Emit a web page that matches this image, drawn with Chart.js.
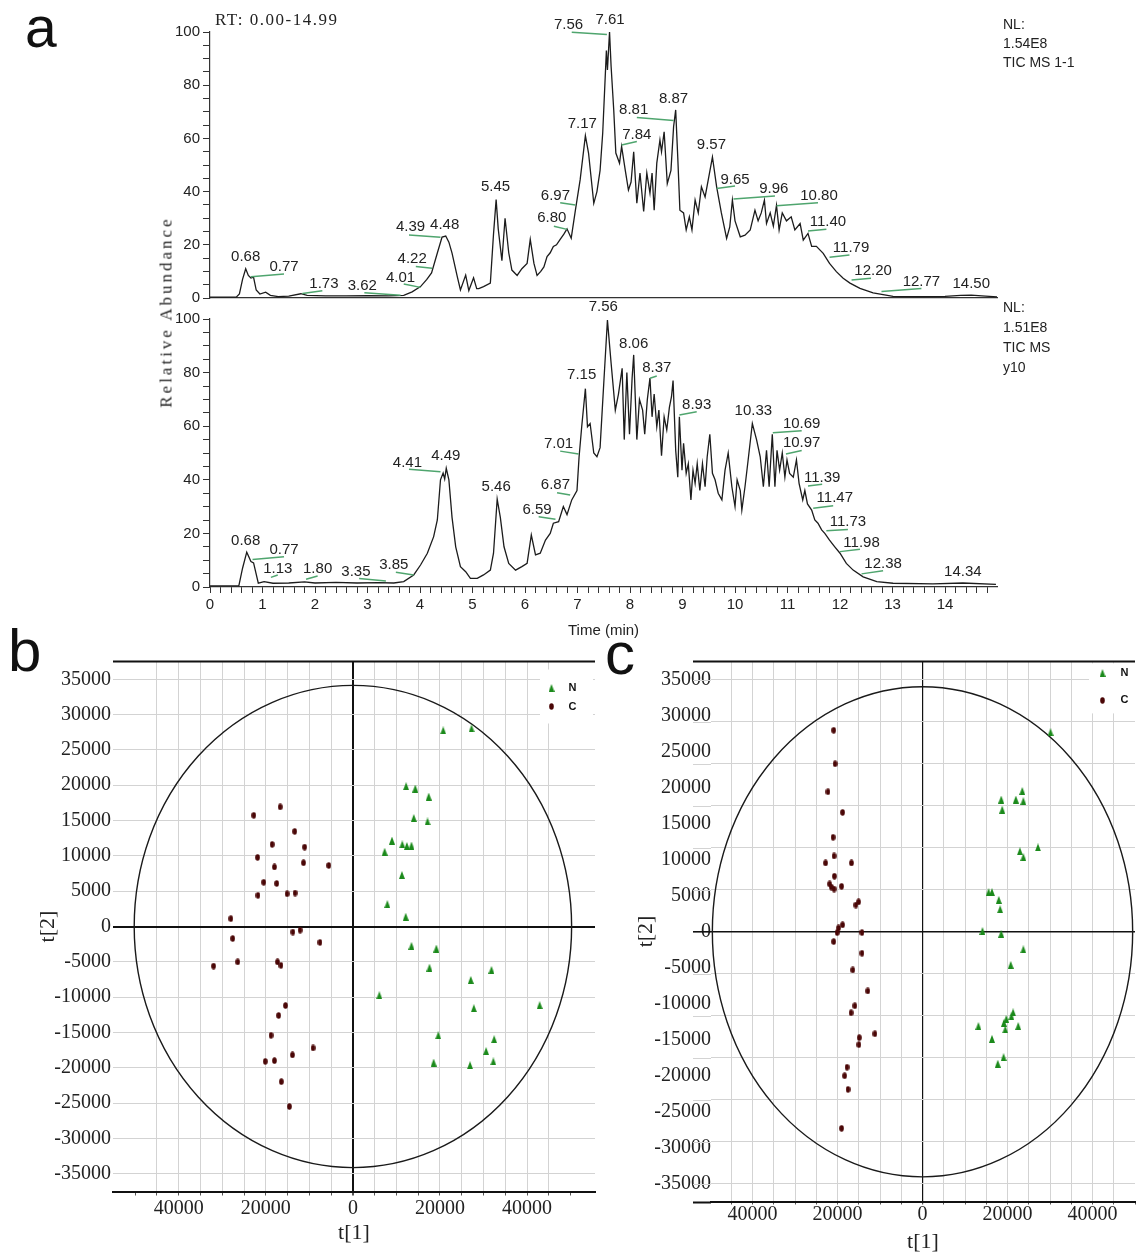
<!DOCTYPE html>
<html><head><meta charset="utf-8">
<script src="https://cdn.jsdelivr.net/npm/chart.js@4.4.1/dist/chart.umd.min.js"></script>
<style>
html,body{margin:0;padding:0;background:#fff;}
body{width:1140px;height:1252px;position:relative;overflow:hidden;font-family:"Liberation Sans",Arial,sans-serif;}
canvas{position:absolute;}
.t{position:absolute;white-space:nowrap;color:#222;line-height:1;}
</style></head><body>
<canvas id="cTop" width="870" height="310" style="left:150px;top:0px"></canvas>
<canvas id="cBot" width="870" height="360" style="left:150px;top:290px"></canvas>
<canvas id="cB" width="600" height="597" style="left:0px;top:655px"></canvas>
<canvas id="cC" width="540" height="597" style="left:600px;top:655px"></canvas>

<div class="t" style="left:25px;top:-1px;font-size:57px;color:#111">a</div>
<div class="t" style="left:8px;top:621px;font-size:60px;color:#111">b</div>
<div class="t" style="left:605px;top:624px;font-size:60px;color:#111">c</div>
<div class="t" style="left:215px;top:11px;font-size:17px;letter-spacing:1.5px;font-family:'Liberation Serif',serif">RT: 0.00-14.99</div>
<div class="t" style="left:1003px;top:15px;font-size:14px;line-height:19px">NL:<br>1.54E8<br>TIC MS 1-1</div>
<div class="t" style="left:1003px;top:297px;font-size:14px;line-height:20px">NL:<br>1.51E8<br>TIC MS<br>y10</div>
<div class="t" style="left:166px;top:312px;font-size:17px;letter-spacing:3px;font-family:'Liberation Serif',serif;transform:translate(-50%,-50%) rotate(-90deg)">Relative Abundance</div>

<script>
// ================= DATA =================
// Panel a, upper trace (TIC MS 1-1): retention time (min) and relative abundance (%)
const topTimes = [0.00,0.50,0.56,0.62,0.68,0.73,0.78,0.83,0.88,0.95,1.06,1.15,1.30,1.50,1.73,1.85,2.20,2.60,3.00,3.40,3.69,3.85,4.01,4.13,4.22,4.33,4.42,4.49,4.55,4.61,4.71,4.77,4.87,4.93,5.02,5.08,5.12,5.21,5.34,5.40,5.45,5.49,5.56,5.62,5.69,5.75,5.85,5.94,6.04,6.10,6.17,6.23,6.30,6.36,6.42,6.48,6.54,6.60,6.67,6.74,6.80,6.88,6.96,7.05,7.15,7.21,7.31,7.37,7.43,7.48,7.55,7.57,7.61,7.64,7.69,7.73,7.80,7.84,7.91,7.97,8.02,8.07,8.13,8.19,8.26,8.32,8.38,8.42,8.46,8.51,8.57,8.60,8.65,8.71,8.78,8.83,8.87,8.91,8.95,9.02,9.07,9.13,9.18,9.24,9.30,9.36,9.43,9.49,9.57,9.65,9.74,9.84,9.90,9.95,10.00,10.10,10.19,10.29,10.38,10.44,10.50,10.56,10.60,10.67,10.73,10.79,10.84,10.90,10.98,11.07,11.14,11.24,11.30,11.39,11.46,11.55,11.68,11.80,11.93,12.06,12.19,12.38,12.63,13.01,13.50,14.00,14.30,14.50,14.70,14.99];
const topAbund = [0.3,0.3,1.5,7,11,8.5,7.5,7.8,3,1.5,2.2,1.0,0.5,0.7,1.6,1.0,0.8,0.8,0.9,0.8,1.0,2.3,4.3,7,9.4,16.9,22.9,23.3,21,16.9,8,3,8.6,2.8,7.6,3.5,3.5,4.3,5.6,24,37,26,14,30,17,10.5,8.5,11,13,22,13,8.5,10,11.7,15.6,17,19.4,20,22,24,26,22.5,33,44.4,61,54.5,35.6,40,48,62,93,85.7,100,87,70.7,54.5,50.7,57,48,40.6,43.6,55,35.6,47,32.5,47,39.4,47,33,50.7,59.4,55,62.5,43,48,64.4,70.7,52.6,33,32,25.6,30.5,25.6,36.8,32,41.8,38,44.4,53,41.8,32,22.4,26.7,36.8,29,23,23.6,25.6,33,29,32,36.8,28,32,27,34.8,25.6,32,29,30.5,25.6,28,21.8,24.3,19.4,19.4,16.8,13,9.9,7.4,5.6,3.6,1.9,0.6,0.5,0.6,1.0,1.1,0.8,0.4];

// Panel a, lower trace (TIC MS y10)
const botTimes = [0.00,0.55,0.62,0.70,0.78,0.83,0.92,1.03,1.20,1.50,1.80,2.00,2.40,2.80,3.20,3.50,3.69,3.88,4.01,4.14,4.26,4.33,4.39,4.44,4.47,4.50,4.55,4.61,4.68,4.77,4.87,4.96,5.09,5.21,5.34,5.40,5.47,5.53,5.60,5.69,5.82,5.94,6.04,6.12,6.20,6.29,6.39,6.48,6.54,6.64,6.73,6.80,6.89,6.99,7.03,7.08,7.15,7.19,7.24,7.31,7.37,7.43,7.50,7.57,7.64,7.72,7.78,7.85,7.89,7.94,7.99,8.04,8.07,8.13,8.18,8.24,8.28,8.33,8.38,8.42,8.46,8.51,8.55,8.60,8.65,8.70,8.75,8.79,8.82,8.87,8.91,8.94,8.99,9.02,9.07,9.11,9.16,9.20,9.24,9.28,9.33,9.38,9.43,9.47,9.52,9.57,9.62,9.68,9.75,9.81,9.87,9.94,10.00,10.04,10.10,10.13,10.19,10.25,10.33,10.41,10.48,10.54,10.60,10.65,10.71,10.76,10.80,10.85,10.90,10.95,10.99,11.04,11.11,11.17,11.22,11.29,11.33,11.38,11.46,11.52,11.58,11.65,11.71,11.80,11.90,12.00,12.12,12.25,12.44,12.70,13.01,13.77,14.34,14.97];
const botAbund = [0.4,0.5,7,13,9.5,9,1.4,2,1.4,1.5,1.9,1.5,1.7,1.5,1.6,1.5,2,4.5,8.2,12.6,18.8,25,40,42.5,40.3,44.3,40,26,15,7.6,5.7,3.2,3.2,4.5,6.3,12.6,32.8,26,15,8.8,6.3,7.6,8.8,19.4,12,12.6,17.5,20,23.8,24.4,30,27,32.5,36,48.6,59.8,74,59.8,61,50,48.6,52,76,99.6,83.5,66,72,81.6,55,80,57,78,86.6,55,70,66,57,70,78,63.5,72,59.8,66,49,63.5,58.6,67,71,77,51,41,63.5,43.6,53.6,42.4,46,32.5,43.6,38.7,46,36,46,37.4,48.6,57,42.4,40,35,32.5,43.6,50,37.4,30,40,36,28.7,37.4,47.4,61,55,48.6,37.4,51,37.4,57,37.4,51,43.6,50,41,47.4,42.4,41,47.4,38.7,32.5,36,31,28.7,25,23.8,21.3,20,17.5,15,12.6,8.8,6.3,3.8,2,1.4,1.2,1.5,1];

// Peak labels: [text, labelTime, labelAbund, leaderStartTime, leaderStartAbund, leaderEndTime, leaderEndAbund]
const topPeaks = [
 ["0.68",0.68,15.3],["0.77",1.41,11.8,0.78,8,1.41,9],["1.73",2.17,5.3,1.76,1.7,2.14,2.7],
 ["3.62",2.90,4.5,2.94,2,3.63,1],["4.01",3.63,7.6,3.69,5.3,4.01,4],["4.22",3.85,14.9,3.92,11.8,4.23,11.2],
 ["4.39",3.82,26.6,3.79,23.7,4.39,22.8],["4.48",4.47,27.4],["5.45",5.44,41.6],
 ["6.97",6.58,38.3,6.67,35.8,6.96,35],["6.80",6.51,30,6.55,27,6.80,25.8],["7.17",7.09,65.4],
 ["7.56",6.83,102.6,6.89,99.9,7.56,99.1],["7.61",7.62,104.5],["8.81",8.07,70.7,8.13,67.9,8.83,66.7],
 ["7.84",8.13,61.3,7.84,57.5,8.13,58.8],["8.87",8.83,75],["9.57",9.55,57.5],
 ["9.65",10.0,44.6,9.65,41.2,10.0,42.1],["9.96",10.74,41.2,9.97,37.2,10.76,38.3],
 ["10.80",11.6,38.3,10.79,34.7,11.58,35.8],["11.40",11.77,28.7,11.39,25.2,11.74,25.8],
 ["11.79",12.21,19,11.80,15.3,12.18,16.2],["12.20",12.63,10.3,12.22,6.8,12.59,7.4],
 ["12.77",13.55,6.1,12.79,2.4,13.55,3.6],["14.50",14.5,5.3]
];
const botPeaks = [
 ["0.68",0.68,17.3],["0.77",1.41,13.8,0.81,10.3,1.41,11.3],["1.13",1.29,6.6,1.16,3.6,1.29,4.5],
 ["1.80",2.05,6.6,1.83,2.9,2.05,4.1],["3.35",2.78,5.7,2.84,3.2,3.35,2.2],["3.85",3.50,8.2,3.54,5.5,3.88,4.5],
 ["4.41",3.76,46.4,3.79,43.9,4.39,43],["4.49",4.49,48.9],["5.46",5.45,37.2],
 ["6.59",6.23,28.7,6.26,26.2,6.58,25.3],["6.87",6.58,38,6.61,35.2,6.86,34.3],["7.01",6.64,53.4,6.67,50.7,7.02,49.6],
 ["7.15",7.08,79],["7.56",7.49,104.6],["8.06",8.07,90.9],["8.37",8.51,81.6,8.38,77.9,8.51,78.7],
 ["8.93",9.27,67.9,8.94,64.2,9.27,65.4],["10.33",10.35,65.7],["10.69",11.27,61,10.72,57.6,11.27,58.3],
 ["10.97",11.27,53.6,10.97,49.6,11.27,50.9],["11.39",11.66,40.9,11.39,37.7,11.66,38.3],
 ["11.47",11.90,33.1,11.49,29.4,11.87,30.3],["11.73",12.15,24.4,11.74,21,12.15,21.5],
 ["11.98",12.41,16.5,12.0,13.2,12.38,14.1],["12.38",12.82,8.5,12.41,4.9,12.82,6.1],["14.34",14.34,5.7]
];

// Panel b: PCA scores t[1], t[2]
const bN_t1 = [20744,27249,12218,14328,17404,13976,17141,8966,11339,12394,13449,7296,11251,7911,12130,13449,19162,17580,31820,27073,6065,27776,42895,19602,32435,30589,18547,26898,32259];
const bN_t2 = [27767,28038,19857,19532,18395,15360,14873,12164,11622,11405,11460,10592,7287,3169,1381,-2736,-3115,-5824,-6149,-7558,-9725,-11567,-11134,-15414,-15956,-17636,-19261,-19640,-19098];
const bC_t1 = [-22766,-16701,-13361,-18547,-11075,-21887,-18020,-11339,-5538,-20481,-17492,-21799,-15119,-13273,-28040,-27601,-13800,-12130,-7559,-31996,-26458,-17316,-16525,-15470,-17053,-18811,-9142,-13888,-20129,-18020,-16437,-14591];
const bC_t2 = [15740,16931,13464,11622,11242,9779,8425,9021,8642,6258,6095,4415,4632,4740,1111,-1707,-786,-515,-2248,-5608,-5012,-5012,-5499,-11188,-12597,-15414,-17202,-18177,-19098,-18990,-21970,-25492];

// Panel c: PCA scores t[1], t[2]
const cN_t1 = [30126,18515,18755,21958,23480,23720,27163,22919,23720,15551,16352,17954,18274,14110,18515,23720,20757,13149,16352,19155,19716,20917,21317,19475,22518,17714,19075];
const cN_t2 = [27717,18374,16969,18374,19563,18157,11723,11182,10372,5507,5507,4426,3129,103,-276,-2437,-4599,-13083,-14866,-12650,-12110,-11732,-11191,-13569,-13083,-18325,-17406];
const cC_t1 = [-20885,-20565,-22246,-18803,-21045,-20805,-22807,-16721,-20725,-21846,-21446,-20805,-19043,-15680,-15039,-18803,-19764,-20084,-20885,-14238,-14238,-16400,-12877,-15920,-16801,-11195,-14879,-14959,-17762,-18322,-17522,-19043];
const cC_t2 = [27987,23340,19449,16585,13127,10533,9560,9560,7723,6642,6209,5939,6318,3722,4154,967,535,-113,-1356,-113,-2977,-5301,-8219,-10273,-11245,-14163,-14704,-15677,-18811,-19999,-21891,-27295];

// Axis tick values of the score plots
const t2Ticks = [-35000,-30000,-25000,-20000,-15000,-10000,-5000,0,5000,10000,15000,20000,25000,30000,35000];
const t1Ticks = [-50000,-45000,-40000,-35000,-30000,-25000,-20000,-15000,-10000,-5000,0,5000,10000,15000,20000,25000,30000,35000,40000,45000,50000];
const t1Labelled = [-40000,-20000,0,20000,40000];

// Hotelling T2 ellipse semi-axes [t1, t2]
const bEllipse = [50230, 34136];
const cEllipse = [49450, 34040];
const groupNames = ["N", "C"];

// ================= DRAWING =================
Chart.defaults.font.family = '"Liberation Sans", Arial, sans-serif';
Chart.defaults.color = '#222';
const SERIF = '"Liberation Serif", "Times New Roman", serif';

function peakPlugin(items) {
  return {
    id: 'peaks',
    afterDatasetsDraw(chart) {
      const {ctx, scales: {x, y}} = chart;
      ctx.save();
      ctx.font = '15px "Liberation Sans", Arial, sans-serif';
      ctx.fillStyle = '#222';
      ctx.textAlign = 'center';
      ctx.textBaseline = 'middle';
      items.forEach(p => {
        if (p.length > 3) {
          ctx.strokeStyle = '#4fa56e';
          ctx.lineWidth = 1.5;
          ctx.beginPath();
          ctx.moveTo(x.getPixelForValue(p[3]), y.getPixelForValue(p[4]));
          ctx.lineTo(x.getPixelForValue(p[5]), y.getPixelForValue(p[6]));
          ctx.stroke();
        }
        ctx.fillText(p[0], x.getPixelForValue(p[1]), y.getPixelForValue(p[2]));
      });
      ctx.restore();
    }
  };
}

function chromChart(id, times, abund, peaks, isBottom, padTop, padBottom) {
  return new Chart(document.getElementById(id), {
    type: 'line',
    data: { datasets: [{
      data: times.map((t, i) => ({x: t, y: abund[i]})),
      borderColor: '#1c1c1c', borderWidth: 1.3, pointRadius: 0, tension: 0, fill: false
    }]},
    options: {
      responsive: false, animation: false, devicePixelRatio: 1,
      layout: {padding: {left: 0, right: 23, top: padTop, bottom: padBottom}},
      plugins: {legend: {display: false}, tooltip: {enabled: false}},
      scales: {
        x: {
          type: 'linear', min: 0, max: 14.99,
          afterFit: s => { s.height = isBottom ? 63 : 0; s.paddingLeft = 0; s.paddingRight = 0; },
          ticks: isBottom ? {
            stepSize: 0.2, includeBounds: false, autoSkip: false, maxRotation: 0, padding: 3,
            font: {size: 15}, color: '#222',
            callback: v => Math.abs(v - Math.round(v)) < 1e-6 ? String(Math.round(v)) : ''
          } : {display: false},
          grid: {display: isBottom, drawOnChartArea: false, drawTicks: isBottom, tickLength: 6, color: '#333'},
          border: {display: true, color: '#333', width: 1.2},
          title: isBottom ? {display: true, text: 'Time (min)', font: {size: 15}, color: '#222', padding: {top: 0, bottom: 10}} : {display: false}
        },
        y: {
          min: 0, max: 100,
          afterFit: s => { s.width = 60; s.paddingTop = 0; s.paddingBottom = 0; },
          ticks: {stepSize: 5, includeBounds: false, autoSkip: false, padding: 3, font: {size: 15}, color: '#222',
                  callback: v => v % 20 === 0 ? String(v) : ''},
          grid: {drawOnChartArea: false, drawTicks: true, tickLength: 7, color: '#333'},
          border: {display: true, color: '#333', width: 1.2}
        }
      }
    },
    plugins: [peakPlugin(peaks)]
  });
}

chromChart('cTop', topTimes, topAbund, topPeaks, false, 32, 12);
chromChart('cBot', botTimes, botAbund, botPeaks, true, 29, 0);

// marker images
function makeTri(color) {
  const c = document.createElement('canvas'); c.width = 6; c.height = 8;
  const g = c.getContext('2d'); g.fillStyle = color;
  g.beginPath(); g.moveTo(3, 0); g.lineTo(6, 8); g.lineTo(0, 8); g.closePath(); g.fill();
  return c;
}
function makeDot(color) {
  const c = document.createElement('canvas'); c.width = 5; c.height = 7;
  const g = c.getContext('2d'); g.fillStyle = color;
  g.beginPath(); g.ellipse(2.5, 3.5, 2.3, 3.3, 0, 0, Math.PI * 2); g.fill();
  return c;
}
const triImg = makeTri('#1b8a1b');
const dotImg = makeDot('#4a0606');

function setTicks(values) {
  return s => { s.ticks = values.filter(v => v >= s.min && v <= s.max).map(v => ({value: v})); };
}

function framePlugin(o) {
  return {
    id: 'frame',
    beforeDatasetsDraw(chart) {
      const {ctx, chartArea: a, scales: {x, y}} = chart;
      const ext = o.ext || 0;
      const l = a.left - ext;
      const seg = (x1, y1, x2, y2) => { ctx.beginPath(); ctx.moveTo(x1, y1); ctx.lineTo(x2, y2); ctx.stroke(); };
      ctx.save();
      const cx = x.getPixelForValue(0), cy = y.getPixelForValue(0);
      if (ext) {
        ctx.strokeStyle = '#d3d3d3'; ctx.lineWidth = 1;
        chart.scales.yg.ticks.forEach(t => { const py = Math.round(y.getPixelForValue(t.value)) + 0.5; seg(l, py, a.left, py); });
        ctx.strokeStyle = '#111'; ctx.lineWidth = o.zy;
        seg(l, cy, a.left, cy);
        ctx.lineWidth = 2;
        seg(l, a.bottom + 1, a.left, a.bottom + 1);
      }
      ctx.strokeStyle = '#111'; ctx.lineWidth = 2;
      seg(l, a.top, a.right, a.top);
      const rx = x.getPixelForValue(o.ell[0]) - cx, ry = cy - y.getPixelForValue(o.ell[1]);
      ctx.strokeStyle = '#1a1a1a'; ctx.lineWidth = 1.4;
      ctx.beginPath(); ctx.ellipse(cx, cy, rx, ry, 0, 0, Math.PI * 2); ctx.stroke();
      ctx.restore();
    },
    afterDatasetsDraw(chart) {
      const {ctx, chartArea: a} = chart;
      const L = o.leg;
      ctx.save();
      ctx.fillStyle = '#fff';
      ctx.fillRect(a.right - L.boxL, a.top + L.boxT, L.boxL - L.boxR, L.boxH);
      ctx.drawImage(triImg, a.right - L.mx - 3, a.top + L.y1 - 4);
      ctx.drawImage(dotImg, a.right - L.mx - 2.5, a.top + L.y2 - 3.5);
      ctx.fillStyle = '#111';
      ctx.font = 'bold 11px "Liberation Sans", Arial, sans-serif';
      ctx.textAlign = 'center'; ctx.textBaseline = 'middle';
      ctx.fillText(groupNames[0], a.right - L.tx, a.top + L.y1);
      ctx.fillText(groupNames[1], a.right - L.tx, a.top + L.y2);
      ctx.restore();
    }
  };
}

function pcaChart(id, o) {
  const scales = {
    x: {
      type: 'linear', min: o.xmin, max: o.xmax,
      afterBuildTicks: setTicks(t1Ticks),
      afterFit: s => { s.height = o.xh; s.paddingLeft = 0; s.paddingRight = 0; },
      ticks: {autoSkip: false, maxRotation: 0, padding: o.xtp,
              color: '#222', font: {family: SERIF, size: 20},
              callback: v => t1Labelled.includes(v) ? String(Math.abs(v)) : ''},
      grid: {
        color: c => { const v = c.tick ? c.tick.value : 1; return v === 0 ? '#111' : (Math.abs(v) > o.gx ? 'rgba(0,0,0,0)' : '#d3d3d3'); },
        lineWidth: c => (c.tick && c.tick.value === 0) ? o.zx : 1,
        tickLength: o.xtl, tickColor: '#555'
      },
      border: {display: true, color: '#111', width: 2},
      title: {display: true, text: 't[1]', color: '#222', font: {family: SERIF, size: 22}, padding: {top: 0, bottom: o.xpb}}
    },
    y: {
      type: 'linear', min: o.ymin, max: o.ymax,
      afterBuildTicks: setTicks(t2Ticks),
      afterFit: s => { s.width = o.yw; s.paddingTop = 0; s.paddingBottom = 0; },
      ticks: {autoSkip: false, padding: o.ytp, color: '#222',
              font: {family: SERIF, size: 20}, callback: v => String(v)},
      grid: {
        drawTicks: false,
        color: c => { const v = c.tick ? c.tick.value : 1; return v === 0 ? '#111' : (o.yg ? 'rgba(0,0,0,0)' : '#d3d3d3'); },
        lineWidth: c => (c.tick && c.tick.value === 0) ? o.zy : 1
      },
      border: {display: false},
      title: {display: true, text: 't[2]', color: '#222', font: {family: SERIF, size: 22}, padding: {top: 0, bottom: 0}}
    }
  };
  if (o.yg) {
    const gridVals = [];
    for (let k = -6; k <= 6; k++) if (k !== 0) gridVals.push(k * o.yg);
    scales.yg = {
      type: 'linear', position: 'right', min: o.ymin, max: o.ymax,
      afterBuildTicks: setTicks(gridVals),
      afterFit: s => { s.width = 0; s.paddingTop = 0; s.paddingBottom = 0; },
      ticks: {display: false},
      grid: {drawTicks: false, color: '#d3d3d3'},
      border: {display: false}
    };
  }
  return new Chart(document.getElementById(id), {
    type: 'scatter',
    data: {datasets: [
      {label: groupNames[0], data: o.nx.map((v, i) => ({x: v, y: o.ny[i]})), pointStyle: triImg, pointRadius: 4, backgroundColor: '#1b8a1b', borderColor: '#1b8a1b'},
      {label: groupNames[1], data: o.cx.map((v, i) => ({x: v, y: o.cy[i]})), pointStyle: dotImg, pointRadius: 4, backgroundColor: '#4a0606', borderColor: '#4a0606'}
    ]},
    options: {
      responsive: false, animation: false, devicePixelRatio: 1,
      layout: {padding: o.pad},
      plugins: {legend: {display: false}, tooltip: {enabled: false}},
      scales
    },
    plugins: [framePlugin(o)]
  });
}

pcaChart('cB', {
  nx: bN_t1, ny: bN_t2, cx: bC_t1, cy: bC_t2, ell: bEllipse,
  xmin: -55099, xmax: 55600, ymin: -37519, ymax: 37519,
  pad: {left: 35, right: 5, top: 6.5, bottom: 0},
  xh: 60.5, xtl: 4, xtp: 1.5, xpb: 6, yw: 78, ytp: 2,
  gx: 47000, zx: 2, zy: 2, yg: 0, ext: 0,
  leg: {boxL: 55, boxR: 2, boxT: 8, boxH: 54, mx: 43.5, tx: 22.5, y1: 26.5, y2: 45}
});

pcaChart('cC', {
  nx: cN_t1, ny: cN_t2, cx: cC_t1, cy: cC_t2, ell: cEllipse,
  xmin: -49767, xmax: 50000, ymin: -37458, ymax: 37556,
  pad: {left: 33, right: 0, top: 6.4, bottom: 0},
  xh: 50.5, xtl: 3, xtp: -2, xpb: -3, yw: 78, ytp: 0,
  gx: 45000, zx: 1.2, zy: 1.6, yg: 5833.333, ext: 18,
  leg: {boxL: 46, boxR: 0, boxT: 2, boxH: 50, mx: 32.5, tx: 10.5, y1: 11.6, y2: 39}
});
</script>
</body></html>
